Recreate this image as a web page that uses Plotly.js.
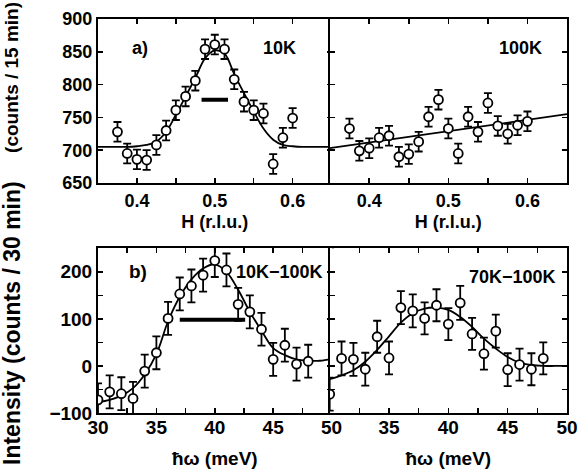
<!DOCTYPE html>
<html>
<head>
<meta charset="utf-8">
<script src="https://cdn.plot.ly/plotly-3.0.1.min.js"></script>
<style>html,body{margin:0;padding:0;background:#fff;}#chart{width:579px;height:469px;}</style>
</head>
<body>
<div id="chart"></div>
<script>
// ---- Panel a) H scans (counts / 15 min) ----
const H = [0.375, 0.3875, 0.4, 0.4125, 0.425, 0.4375, 0.45, 0.4625, 0.475, 0.4875, 0.5, 0.5125, 0.525, 0.5375, 0.55, 0.5625, 0.575, 0.5875, 0.6];
const I10K = [728, 695, 686, 685, 708, 730, 761, 782, 806, 854, 861, 854, 808, 774, 761, 756, 679, 719, 749];
const E10K = [15, 15, 15, 15, 15, 15, 15, 15, 15, 15, 15, 15, 15, 15, 15, 15, 15, 15, 15];
const I100K = [733, 699, 703, 719, 722, 690, 694, 713, 751, 777, 733, 695, 751, 728, 772, 737, 725, 738, 744];
const E100K = [15, 15, 15, 15, 15, 15, 15, 15, 15, 15, 15, 15, 15, 15, 15, 15, 15, 15, 15];
const Hfit = [0.35, 0.3625, 0.375, 0.3875, 0.4, 0.4125, 0.425, 0.4375, 0.45, 0.4625, 0.475, 0.4875, 0.5, 0.5125, 0.525, 0.5375, 0.55, 0.5625, 0.575, 0.5875, 0.6, 0.6125, 0.625, 0.6375, 0.65];
const Fit10K = [705, 705, 705, 705, 706, 708, 713, 728, 754, 782, 810, 840, 852, 847, 816, 787, 759, 733, 716, 708, 706, 705, 705, 705, 705];
const HfitLin = [0.35, 0.65];
const Fit100K = [703, 755];
const Hres = [0.483, 0.517];
const Ires = [777, 777];

// ---- Panel b) energy scans (counts / 30 min) ----
const W = [30, 31, 32, 33, 34, 35, 36, 37, 38, 39, 40, 41, 42, 43, 44, 45, 46, 47, 48];
const D10 = [-72, -55, -59, -69, -11, 28, 101, 153, 170, 193, 224, 204, 131, 115, 78, 14, 44, 4, 10];
const DE10 = [35, 35, 35, 35, 35, 35, 35, 35, 35, 35, 35, 35, 35, 35, 35, 35, 35, 35, 35];
const D70 = [-60, 16, 14, -7, 62, 17, 124, 117, 101, 129, 89, 134, 68, 26, 74, -8, 3, -7, 16];
const DE70 = [35, 36, 35, 35, 34, 35, 35, 35, 34, 34, 34, 36, 34, 34, 35, 35, 34, 34, 34];
const Wfit = [30, 31, 32, 33, 34, 35, 36, 37, 38, 39, 40, 41, 42, 43, 44, 45, 46, 47, 48, 49, 50];
const Fit10 = [-77, -72, -63, -47, -18, 25, 95, 147, 184, 207, 216, 200, 162, 115, 75, 38, 23, 14, 11, 11, 15];
const Fit70 = [-28, -20, -9, 9, 34, 63, 92, 112, 122, 124, 119, 104, 83, 58, 37, 19, 7, 2, 0, 0, 0];
const Wres = [37.0, 42.6];
const Dres = [98, 98];

// ---- tick labels ----
const hTickVals = [0.35, 0.4, 0.45, 0.5, 0.55, 0.6, 0.65];
const hTickText = ['', '0.4', '', '0.5', '', '0.6', ''];
const wTickVals = [30, 32.5, 35, 37.5, 40, 42.5, 45, 47.5, 50];
const wTickTextL = ['30', '', '35', '', '40', '', '45', '', '50'];
const wTickTextR = ['', '', '35', '', '40', '', '45', '', '50'];
const aTickVals = [650, 700, 750, 800, 850, 900];
const aTickText = ['650', '700', '750', '800', '850', '900'];
const bTickVals = [-100, -50, 0, 50, 100, 150, 200, 250];
const bTickText = ['\u2212100', '', '0', '', '100', '', '200', ''];

const FONT = 'Liberation Sans, Arial, sans-serif';
const mk = {symbol: 'circle', size: 9, color: 'white', line: {color: 'black', width: 1.8}};
const eb = (arr) => ({type: 'data', array: arr, visible: true, color: 'black', thickness: 1.8, width: 4});

function pts(x, y, e, xa, ya) {
  return {x: x, y: y, type: 'scatter', mode: 'markers', xaxis: xa, yaxis: ya,
          marker: mk, error_y: eb(e), showlegend: false, hoverinfo: 'x+y'};
}
function line(x, y, xa, ya, w, shape) {
  return {x: x, y: y, type: 'scatter', mode: 'lines', xaxis: xa, yaxis: ya,
          line: {color: 'black', width: w, shape: shape || 'spline', smoothing: 1.0},
          showlegend: false, hoverinfo: 'skip'};
}

const traces = [
  line(Hfit, Fit10K, 'x', 'y', 1.8),
  pts(H, I10K, E10K, 'x', 'y'),
  line(Hres, Ires, 'x', 'y', 4, 'linear'),
  line(HfitLin, Fit100K, 'x2', 'y2', 1.8, 'linear'),
  pts(H, I100K, E100K, 'x2', 'y2'),
  line(Wfit, Fit10, 'x3', 'y3', 1.8),
  pts(W, D10, DE10, 'x3', 'y3'),
  line(Wres, Dres, 'x3', 'y3', 4, 'linear'),
  line(Wfit, Fit70, 'x4', 'y4', 1.8),
  pts(W, D70, DE70, 'x4', 'y4')
];

const tf = (s) => ({family: FONT, size: s, color: 'black', weight: 'bold'});
const base = {showline: true, linecolor: 'black', linewidth: 2, mirror: 'allticks',
  ticks: 'inside', ticklen: 5, tickwidth: 1.5, tickcolor: 'black',
  showgrid: false, zeroline: false, fixedrange: true, automargin: false};

const xdL = [0, 0.498], xdR = [0.494, 1];
const ydT = [0.5838, 1], ydB = [0, 0.418];

const layout = {
  width: 579, height: 469,
  margin: {l: 98, r: 12, t: 19, b: 56},
  paper_bgcolor: 'white', plot_bgcolor: 'white',
  font: {family: FONT, size: 18, color: 'black', weight: 'bold'},
  showlegend: false,
  xaxis: Object.assign({}, base, {domain: xdL, anchor: 'y', range: [0.35, 0.65],
    tickmode: 'array', tickvals: hTickVals, ticktext: hTickText, tickfont: tf(18), ticklabelstandoff: 0,
    title: {text: 'H (r.l.u.)', font: tf(18), standoff: 6}}),
  xaxis2: Object.assign({}, base, {domain: xdR, anchor: 'y2', range: [0.35, 0.65],
    tickmode: 'array', tickvals: hTickVals, ticktext: hTickText, tickfont: tf(18), ticklabelstandoff: 0,
    title: {text: 'H (r.l.u.)', font: tf(18), standoff: 6}}),
  xaxis3: Object.assign({}, base, {domain: xdL, anchor: 'y3', range: [30, 50],
    tickmode: 'array', tickvals: wTickVals, ticktext: wTickTextL, tickfont: tf(19), ticklabelstandoff: -4,
    title: {text: 'ħω (meV)', font: tf(19), standoff: 16}}),
  xaxis4: Object.assign({}, base, {domain: xdR, anchor: 'y4', range: [30, 50],
    tickmode: 'array', tickvals: wTickVals, ticktext: wTickTextR, tickfont: tf(19), ticklabelstandoff: -4,
    title: {text: 'ħω (meV)', font: tf(19), standoff: 16}}),
  yaxis: Object.assign({}, base, {domain: ydT, anchor: 'x', range: [650, 900],
    tickmode: 'array', tickvals: aTickVals, ticktext: aTickText, tickfont: tf(18), ticklabelstandoff: 0}),
  yaxis2: Object.assign({}, base, {domain: ydT, anchor: 'x2', range: [650, 900],
    tickmode: 'array', tickvals: aTickVals, showticklabels: false}),
  yaxis3: Object.assign({}, base, {domain: ydB, anchor: 'x3', range: [-100, 250],
    tickmode: 'array', tickvals: bTickVals, ticktext: bTickText, tickfont: tf(19), ticklabelstandoff: 0}),
  yaxis4: Object.assign({}, base, {domain: ydB, anchor: 'x4', range: [-100, 250],
    tickmode: 'array', tickvals: bTickVals, showticklabels: false}),
  annotations: [
    {text: 'a)', xref: 'x', yref: 'y', x: 0.4035, y: 856, showarrow: false, font: tf(18)},
    {text: '10K', xref: 'x', yref: 'y', x: 0.583, y: 856, showarrow: false, font: tf(18)},
    {text: '100K', xref: 'x2', yref: 'y2', x: 0.591, y: 856, showarrow: false, font: tf(18)},
    {text: 'b)', xref: 'x3', yref: 'y3', x: 33.4, y: 200, showarrow: false, font: tf(19)},
    {text: '10K\u2212100K', xref: 'x3', yref: 'y3', x: 45.5, y: 200, showarrow: false, font: tf(18)},
    {text: '70K\u2212100K', xref: 'x4', yref: 'y4', x: 45.4, y: 189, showarrow: false, font: tf(18)},
    {text: '(counts / 15 min)', xref: 'paper', yref: 'paper', x: -0.1834, y: 0.853,
     xanchor: 'center', yanchor: 'middle', textangle: -90, showarrow: false, font: tf(19)},
    {text: 'Intensity (counts / 30 min)', xref: 'paper', yref: 'paper', x: -0.1834, y: 0.2284,
     xanchor: 'center', yanchor: 'middle', textangle: -90, showarrow: false, font: tf(23)}
  ]
};

Plotly.newPlot('chart', traces, layout, {staticPlot: true, displayModeBar: false});
</script>
</body>
</html>
